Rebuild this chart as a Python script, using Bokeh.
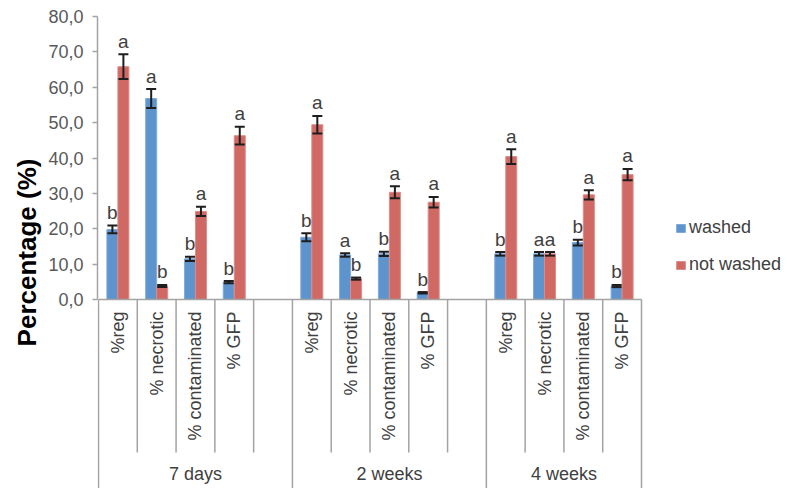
import math
from bokeh.plotting import figure
from bokeh.models import (ColumnDataSource, Whisker, TeeHead, Legend, LegendItem,
                          FixedTicker, Range1d)
from bokeh.core.properties import value
from bokeh.embed import file_html
from bokeh.resources import INLINE

# ---------------- data ----------------
groups = ["7 days", "2 weeks", "4 weeks"]
group_slots = [
    ["%reg", "% necrotic", "% contaminated", "% GFP", ""],
    ["%reg", "% necrotic", "% contaminated", "% GFP", ""],
    ["%reg", "% necrotic", "% contaminated", "% GFP"],
]
series_names = ["washed", "not washed"]

washed = [19.8, 56.8, 11.5, 4.9, 17.6, 12.6, 12.9, 1.9, 12.9, 12.9, 16.1, 3.8]
washed_err = [1.1, 2.7, 0.6, 0.3, 1.1, 0.5, 0.6, 0.2, 0.5, 0.5, 0.8, 0.3]
washed_letters = ["b", "a", "b", "b", "b", "a", "b", "b", "b", "a", "b", "b"]

not_washed = [65.8, 3.8, 24.9, 46.3, 49.4, 5.9, 30.3, 27.5, 40.4, 12.9, 29.6, 35.3]
not_washed_err = [3.5, 0.3, 1.3, 2.5, 2.5, 0.3, 1.7, 1.5, 2.1, 0.5, 1.3, 1.6]
not_washed_letters = ["a", "b", "a", "a", "a", "b", "a", "a", "a", "a", "a", "a"]

y_ticks = [0, 10, 20, 30, 40, 50, 60, 70, 80]
y_tick_labels = ["0,0", "10,0", "20,0", "30,0", "40,0", "50,0", "60,0", "70,0", "80,0"]

# ---------------- layout constants ----------------
W, H = 787, 488
PX_TOP, PX_ZERO = 16, 299
FRAME_LEFT = 97
X0_PX, XEND_PX = 98, 641

slot_labels, slot_group = [], []
for gi, subs in enumerate(group_slots):
    for s in subs:
        slot_labels.append(s)
        slot_group.append(gi)
n_slots = len(slot_labels)

unit_px = (PX_ZERO - PX_TOP) / 80.0
slot_px = (XEND_PX - X0_PX) / n_slots
y_start = 80 - (H - PX_TOP) / unit_px
x_start = -(X0_PX - FRAME_LEFT) / slot_px
x_end = x_start + (W - FRAME_LEFT) / slot_px

def py(px):  # screen px below baseline -> data y
    return -(px - PX_ZERO) / unit_px

bar_slots = [i for i, s in enumerate(slot_labels) if s]
centers = [i + 0.5 for i in bar_slots]
bar_w = 11.0 / slot_px
letter_gap = 13.0 / unit_px

BLUE = "#5E94CD"
RED = "#D06863"
GRAY_AXIS = "#A3A3A3"
TXT = "#404040"
FONT = "Liberation Sans"

p = figure(width=W, height=H, x_range=Range1d(x_start, x_end), y_range=Range1d(y_start, 80),
           x_axis_location=None, min_border_left=FRAME_LEFT, min_border_right=0,
           min_border_top=PX_TOP, min_border_bottom=0,
           output_backend="svg", toolbar_location=None)
p.outline_line_color = None
p.xgrid.visible = False
p.ygrid.visible = False
p.background_fill_color = "white"
p.border_fill_color = "white"

# y axis
ax = p.yaxis[0]
ax.bounds = (0, 80)
ax.ticker = FixedTicker(ticks=y_ticks)
ax.major_label_overrides = {t: l for t, l in zip(y_ticks, y_tick_labels)}
ax.minor_tick_line_color = None
ax.major_tick_in = 0
ax.major_tick_out = 5
ax.major_tick_line_color = GRAY_AXIS
ax.axis_line_color = GRAY_AXIS
ax.axis_line_width = 1.5
ax.major_tick_line_width = 1.5
ax.major_label_text_font = FONT
ax.major_label_text_font_size = "18px"
ax.major_label_text_color = "#595959"
ax.major_label_standoff = 9
ax.axis_label = "Percentage (%)"
ax.axis_label_text_font = FONT
ax.axis_label_text_font_style = "bold"
ax.axis_label_text_font_size = "26px"
ax.axis_label_text_color = "#000000"
ax.axis_label_standoff = 3

# bars
src_w = ColumnDataSource(dict(
    x=[c - bar_w / 2 for c in centers], top=washed,
    upper=[v + e for v, e in zip(washed, washed_err)],
    lower=[v - e for v, e in zip(washed, washed_err)],
    ly=[v + e + letter_gap for v, e in zip(washed, washed_err)],
    letter=washed_letters))
src_n = ColumnDataSource(dict(
    x=[c + bar_w / 2 for c in centers], top=not_washed,
    upper=[v + e for v, e in zip(not_washed, not_washed_err)],
    lower=[v - e for v, e in zip(not_washed, not_washed_err)],
    ly=[v + e + letter_gap for v, e in zip(not_washed, not_washed_err)],
    letter=not_washed_letters))

rb = p.vbar(x="x", top="top", bottom=0, width=bar_w, source=src_w,
            fill_color=BLUE, line_color="#7FAADA", line_width=1)
rr = p.vbar(x="x", top="top", bottom=0, width=bar_w, source=src_n,
            fill_color=RED, line_color="#DC8C88", line_width=1)

for src in (src_w, src_n):
    wk = Whisker(source=src, base="x", upper="upper", lower="lower", level="overlay",
                 line_color="#1E1E1E", line_width=2,
                 upper_head=TeeHead(size=10, line_color="#1E1E1E", line_width=2),
                 lower_head=TeeHead(size=10, line_color="#1E1E1E", line_width=2))
    p.add_layout(wk)
    p.text(x="x", y="ly", text="letter", source=src, text_align="center",
           text_baseline="alphabetic", text_font=value(FONT),
           text_font_size="19px", text_color=TXT)

# category axis (drawn in data space below zero)
p.segment(x0=[0], y0=[0], x1=[n_slots], y1=[0], line_color=GRAY_AXIS, line_width=1.5)
group_bounds = [0]
for subs in group_slots:
    group_bounds.append(group_bounds[-1] + len(subs))
sep_x, sep_y1 = [], []
for b in range(n_slots + 1):
    sep_x.append(b)
    sep_y1.append(y_start if b in group_bounds else py(452))
p.segment(x0=sep_x, y0=[0] * len(sep_x), x1=sep_x, y1=sep_y1,
          line_color=GRAY_AXIS, line_width=1.5)

lab_x = [i + 0.5 for i, s in enumerate(slot_labels) if s]
lab_t = [s for s in slot_labels if s]
p.text(x=lab_x, y=[py(311)] * len(lab_x), text=lab_t, angle=math.pi / 2,
       text_align="right", text_baseline="middle", text_font=value(FONT),
       text_font_size="18px", text_color=TXT)

gc = [(group_bounds[i] + group_bounds[i + 1]) / 2 for i in range(len(groups))]
p.text(x=gc, y=[py(473)] * len(gc), text=groups, text_align="center",
       text_baseline="middle", text_font=value(FONT), text_font_size="18px",
       text_color=TXT)

legend = Legend(items=[LegendItem(label=series_names[0], renderers=[rb]),
                       LegendItem(label=series_names[1], renderers=[rr])],
                location=(675 - FRAME_LEFT, H - 275), glyph_width=11, glyph_height=10,
                label_height=20, spacing=16, label_standoff=3, padding=0, margin=0,
                border_line_color=None, background_fill_alpha=0,
                label_text_font=FONT, label_text_font_size="18px",
                label_text_color=TXT)
p.add_layout(legend)

open("out.html", "w").write(file_html(p, INLINE))
